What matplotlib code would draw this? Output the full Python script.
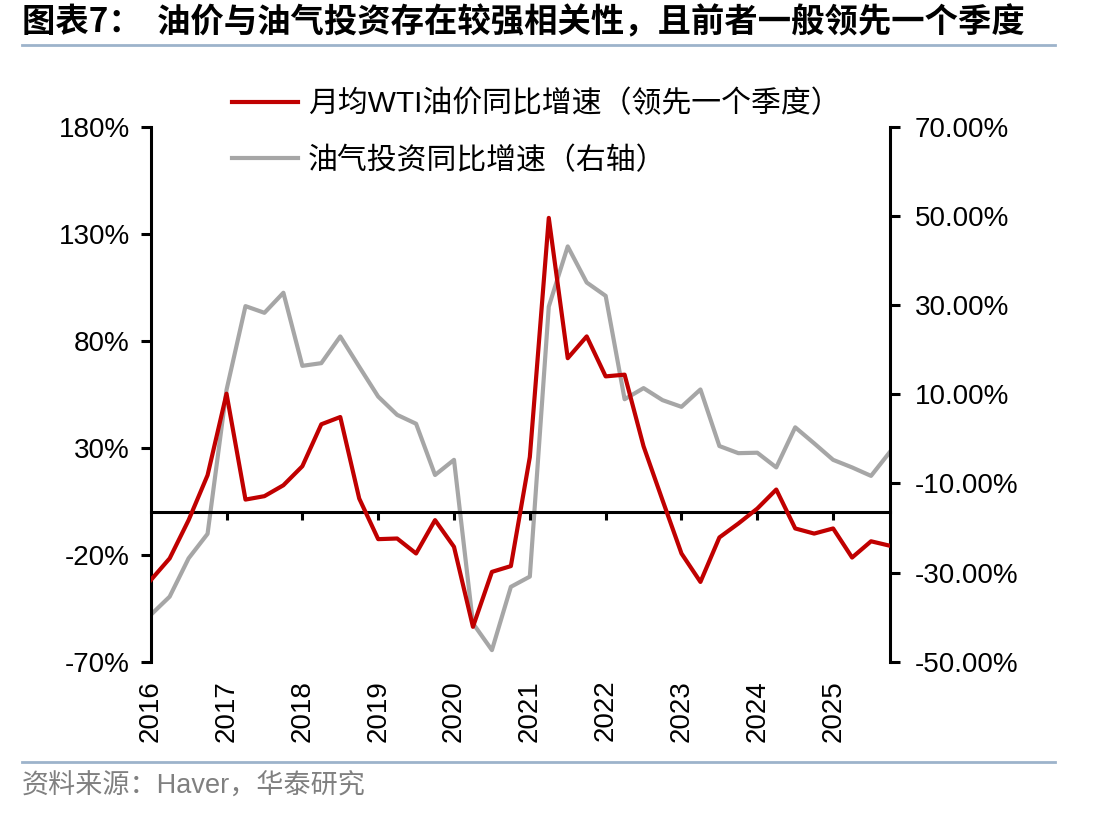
import numpy as np
import pandas as pd
import matplotlib
matplotlib.use('Agg')
from matplotlib import pyplot as plt
from matplotlib.lines import Line2D

plt.rcParams['font.family'] = ['Liberation Sans', 'Noto Sans CJK SC', 'DejaVu Sans']

# quarterly data, 2016Q1 - 2025Q4
quarters = pd.period_range('2016Q1', '2025Q4', freq='Q')
wti_yoy = [-31.9, -21.7, -3.8, 17.2, 55.3, 5.8, 7.4, 12.5, 21.4, 41.0,
           44.4, 6.3, -12.7, -12.4, -19.4, -3.8, -16.3, -53.7, -28.0, -25.3,
           25.7, 137.5, 71.9, 82.1, 63.4, 64.2, 30.7, 5.5, -19.4, -32.7,
           -11.9, -5.4, 1.6, 10.5, -7.7, -10.1, -7.7, -21.3, -13.7, -15.8]
invest_yoy = [-39.5, -35.4, -26.8, -21.3, 11.0, 29.8, 28.3, 32.8, 16.4, 17.0,
              23.0, 16.2, 9.5, 5.4, 3.4, -8.1, -4.7, -41.4, -47.4, -33.2,
              -30.9, 29.7, 43.2, 35.1, 32.1, 8.9, 11.4, 8.7, 7.2, 11.1,
              -1.6, -3.2, -3.1, -6.4, 2.6, -1.0, -4.7, -6.4, -8.3, -2.9]
left_ticks = [-70, -20, 30, 80, 130, 180]
right_ticks = [-50, -30, -10, 10, 30, 50, 70]
wti_label = '月均WTI油价同比增速（领先一个季度）'
invest_label = '油气投资同比增速（右轴）'

W, H = 1112, 816
fig = plt.figure(figsize=(W / 100, H / 100), dpi=100)
ax = fig.add_axes([150.7 / W, 1 - 661.7 / H, (890 - 150.7) / W, (661.7 - 127) / H])
ax2 = ax.twinx()

x = np.arange(len(quarters))
l1, = ax.plot(x, wti_yoy, color='#C00000', lw=3, zorder=3)
l2, = ax2.plot(x, invest_yoy, color='#A6A6A6', lw=3)
ax.set_zorder(ax2.get_zorder() + 1)
ax.patch.set_visible(False)

ax.set_xlim(0, len(x) - 1)
ax.set_ylim(-70, 180)
ax2.set_ylim(-50, 70)

year_pos = [i for i, q in enumerate(quarters) if q.quarter == 1]
ax.set_xticks(year_pos, [str(quarters[i].year) for i in year_pos], rotation=90, fontsize=20)
ax.tick_params(axis='x', length=0, pad=13)

ax.set_yticks(left_ticks, [f'{v}%' for v in left_ticks], fontsize=20)
ax.tick_params(axis='y', length=7, width=2.2, pad=8)
ax2.set_yticks(right_ticks, [f'{v:.2f}%' for v in right_ticks], fontsize=20)
ax2.tick_params(axis='y', length=7, width=2.2, pad=11)

for s in ['top', 'bottom', 'right']:
    ax.spines[s].set_visible(False)
for s in ['top', 'bottom', 'left']:
    ax2.spines[s].set_visible(False)
ax.spines['left'].set_linewidth(2.2)
ax2.spines['right'].set_linewidth(2.2)

# zero line with year ticks
sec = ax.secondary_xaxis(0, transform=ax.transData)
sec.set_xticks(year_pos[1:])
sec.tick_params(axis='x', length=6, width=2.2, labelbottom=False)
sec.spines['bottom'].set_linewidth(2.2)

ax2.legend([l1, l2], [wti_label, invest_label], loc='upper left',
           bbox_to_anchor=(232 / W, 1 - 90 / H), bbox_transform=fig.transFigure,
           frameon=False, fontsize=21.5, handlelength=2.2, handletextpad=0.35,
           labelspacing=0.93, borderpad=0, borderaxespad=0)

fig.text(22 / W, 1 - 23 / H, '图表7：  油价与油气投资存在较强相关性，且前者一般领先一个季度',
         fontsize=24, fontweight='bold', family=['Noto Sans CJK SC'], va='center')
fig.add_artist(Line2D([22 / W, 1055 / W], [1 - 45 / H] * 2, color='#9DB3CB', lw=2))
fig.add_artist(Line2D([22 / W, 1055 / W], [1 - 762 / H] * 2, color='#9DB3CB', lw=2))
fig.text(22 / W, 1 - 787 / H, '资料来源：Haver，华泰研究', fontsize=19.5, color='#808080', va='center')

fig.savefig('out.png', dpi=100)
